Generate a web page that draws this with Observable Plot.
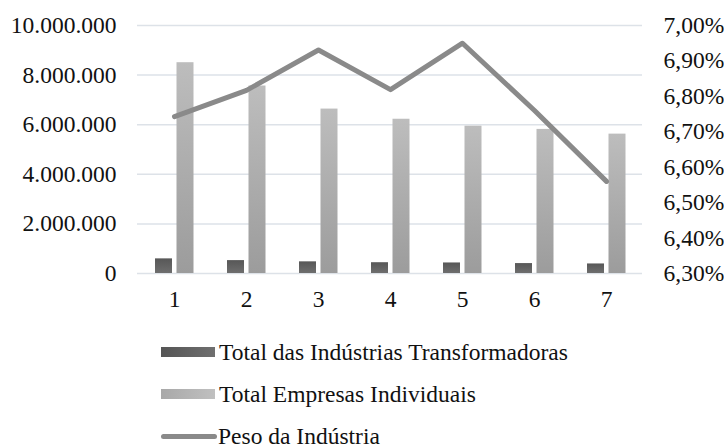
<!DOCTYPE html>
<html><head><meta charset="utf-8">
<script src="https://cdn.jsdelivr.net/npm/d3@7"></script>
<script src="https://cdn.jsdelivr.net/npm/@observablehq/plot@0.6"></script>
<style>
body{margin:0;background:#fff;font-family:"Liberation Serif",serif;overflow:hidden;}
#legend{position:relative;height:125px;width:724px;}
.item{position:absolute;left:161px;height:26px;line-height:26px;display:flex;align-items:center;font-size:23.5px;color:#111;white-space:nowrap;}
.sw{width:54px;height:10px;margin-right:4px;}
.ln{width:56px;height:5px;border-radius:3px;background:#8a8a8a;margin-right:1px;}
</style></head><body><div id="chart"></div><div id="legend"></div>
<script>
const categories = ["1", "2", "3", "4", "5", "6", "7"];
const industrias = [590000, 520000, 470000, 435000, 425000, 400000, 385000];
const empresas = [8500000, 7560000, 6630000, 6220000, 5940000, 5810000, 5620000];
const peso = [6.743, 6.817, 6.931, 6.819, 6.950, 6.760, 6.560];
const leftTicks = [0, 2000000, 4000000, 6000000, 8000000, 10000000];
const rightTicks = [6.3, 6.4, 6.5, 6.6, 6.7, 6.8, 6.9, 7.0];
const seriesNames = ["Total das Indústrias Transformadoras", "Total Empresas Individuais", "Peso da Indústria"];

const yMax = 10000000, pMin = 6.3, pMax = 7.0;
const toY = p => (p - pMin) / (pMax - pMin) * yMax;
const fromY = v => pMin + v / yMax * (pMax - pMin);
const loc = d3.formatLocale({decimal: ",", thousands: ".", grouping: [3], currency: ["", ""]});
const fmtNum = loc.format(",.0f");
const fmtPct = v => loc.format(".2f")(v) + "%";

const data = categories.map((c, i) => ({cat: c, ind: industrias[i], emp: empresas[i], peso: peso[i]}));

const plot = Plot.plot({
  width: 724, height: 320,
  marginLeft: 137, marginRight: 82, marginTop: 25, marginBottom: 47,
  style: {fontFamily: "Liberation Serif, serif", fontSize: "23.5px", color: "#111", background: "white", overflow: "visible"},
  x: {domain: categories, padding: 0, label: null},
  y: {domain: [0, yMax], label: null},
  marks: [
    Plot.gridY(leftTicks, {stroke: "#dde2e8", strokeOpacity: 1, strokeWidth: 1.5}),
    Plot.axisY(leftTicks, {tickSize: 0, tickPadding: 21, tickFormat: fmtNum, label: null, fontSize: 23.5}),
    Plot.axisY(rightTicks.map(toY), {anchor: "right", tickSize: 0, tickPadding: 21, tickFormat: v => fmtPct(fromY(v)), label: null, fontSize: 23.5}),
    Plot.axisX({tickSize: 0, tickPadding: 17, label: null, fontSize: 23.5}),
    Plot.barY(data, {x: "cat", y: "ind", fill: "url(#gDark)", insetLeft: 17, insetRight: 38}),
    Plot.barY(data, {x: "cat", y: "emp", fill: "url(#gLight)", insetLeft: 38.5, insetRight: 16.5}),
    Plot.line(data, {x: "cat", y: d => toY(d.peso), stroke: "#8a8a8a", strokeWidth: 5, strokeLinejoin: "round", strokeLinecap: "round"})
  ]
});
const ns = "http://www.w3.org/2000/svg";
const defs = document.createElementNS(ns, "defs");
defs.innerHTML = `
<linearGradient id="gDark" x1="0" y1="0" x2="0" y2="1"><stop offset="0" stop-color="#575757"/><stop offset="1" stop-color="#6e6e6e"/></linearGradient>
<linearGradient id="gLight" x1="0" y1="0" x2="0" y2="1"><stop offset="0" stop-color="#bdbdbd"/><stop offset="1" stop-color="#9c9c9c"/></linearGradient>`;
plot.insertBefore(defs, plot.firstChild);
document.getElementById("chart").appendChild(plot);

const legend = document.getElementById("legend");
const swatches = [
  '<div class="sw" style="background:linear-gradient(to right,#555,#6f6f6f)"></div>',
  '<div class="sw" style="background:linear-gradient(to right,#a8a8a8,#c0c0c0)"></div>',
  '<div class="ln"></div>'
];
const tops = [19, 61, 103];
seriesNames.forEach((n, i) => {
  const d = document.createElement("div");
  d.className = "item";
  d.style.top = tops[i] + "px";
  d.innerHTML = swatches[i] + "<span>" + n + "</span>";
  legend.appendChild(d);
});
</script></body></html>
